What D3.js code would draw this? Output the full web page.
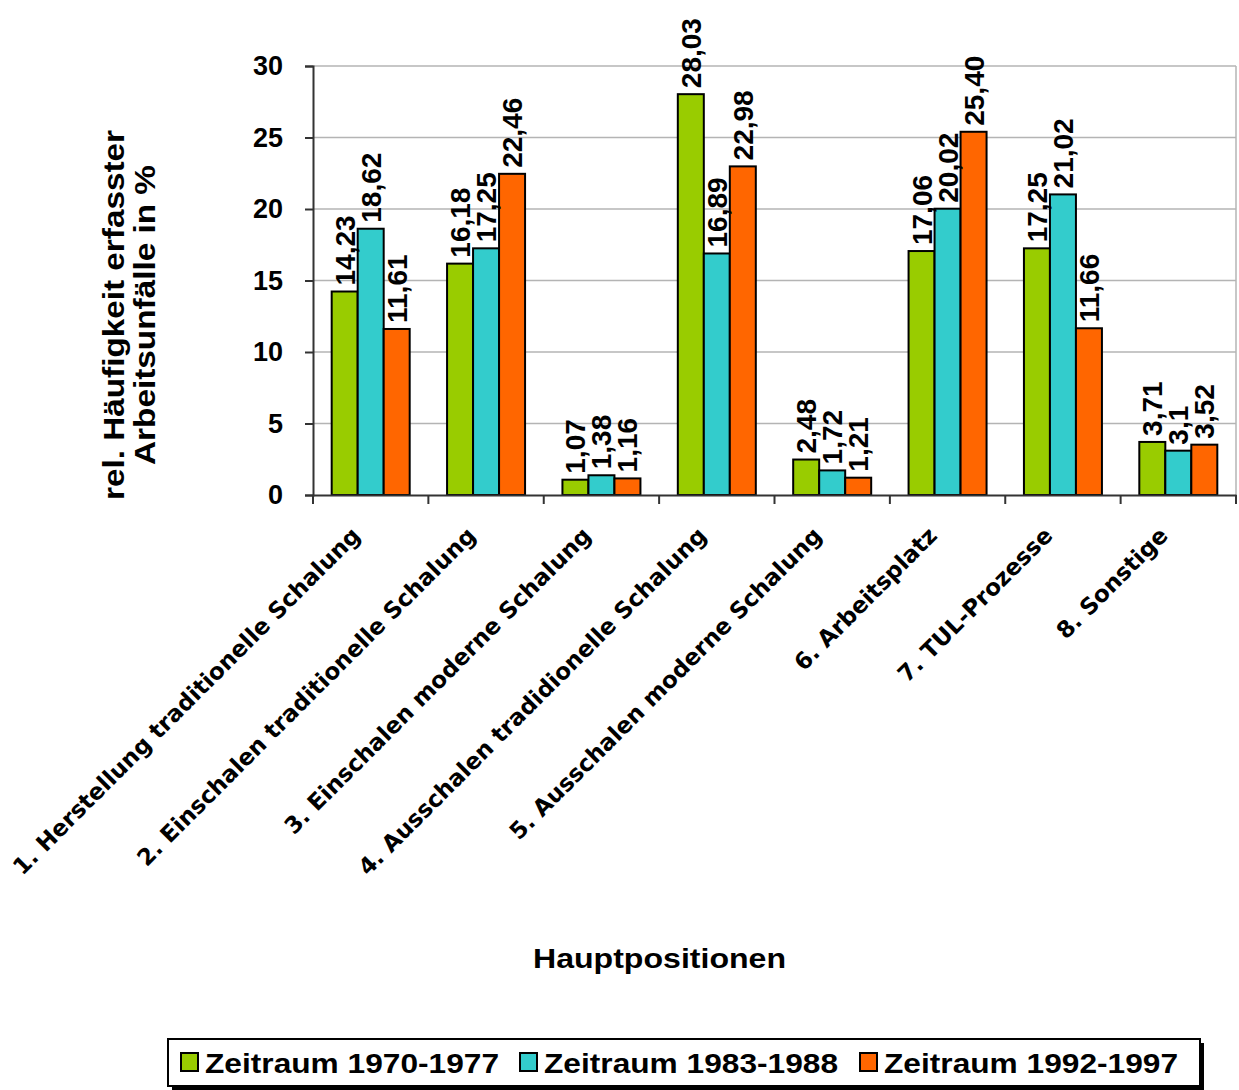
<!DOCTYPE html>
<html>
<head>
<meta charset="utf-8">
<script src="https://cdn.jsdelivr.net/npm/d3@7"></script>
<style>
body { margin: 0; background: #fff; }
</style>
</head>
<body>
<div id="main"></div>
<script>
var categories = [
    "1. Herstellung traditionelle Schalung",
    "2. Einschalen traditionelle Schalung",
    "3. Einschalen moderne Schalung",
    "4. Ausschalen tradidionelle Schalung",
    "5. Ausschalen moderne Schalung",
    "6. Arbeitsplatz",
    "7. TUL-Prozesse",
    "8. Sonstige"
];
var seriesNames = ["Zeitraum 1970-1977", "Zeitraum 1983-1988", "Zeitraum 1992-1997"];
var series1 = [14.23, 16.18, 1.07, 28.03, 2.48, 17.06, 17.25, 3.71];
var series2 = [18.62, 17.25, 1.38, 16.89, 1.72, 20.02, 21.02, 3.1];
var series3 = [11.61, 22.46, 1.16, 22.98, 1.21, 25.40, 11.66, 3.52];
var labels1 = ["14,23", "16,18", "1,07", "28,03", "2,48", "17,06", "17,25", "3,71"];
var labels2 = ["18,62", "17,25", "1,38", "16,89", "1,72", "20,02", "21,02", "3,1"];
var labels3 = ["11,61", "22,46", "1,16", "22,98", "1,21", "25,40", "11,66", "3,52"];
var yTicks = [0, 5, 10, 15, 20, 25, 30];
var colors = ["#99cc00", "#33cccc", "#ff6600"];

var ctx = { w: 1239, h: 1090, left: 313, right: 1236, top: 66, bottom: 495 };
var ARIAL = "'Liberation Sans', Arial, sans-serif";

var svg = d3.select("#main").append("svg")
    .attr("width", ctx.w).attr("height", ctx.h);

var x = d3.scaleBand().domain(categories).range([ctx.left, ctx.right]);
var y = d3.scaleLinear().domain([0, 30]).range([ctx.bottom, ctx.top]);
var barW = 26;
var xs = d3.scaleBand().domain([0, 1, 2]).range([0, barW * 3]);

// gridlines
svg.append("g").selectAll("line")
    .data(yTicks.filter(function(d){ return d > 0; }))
    .enter().append("line")
    .attr("x1", ctx.left).attr("x2", ctx.right)
    .attr("y1", function(d){ return y(d); })
    .attr("y2", function(d){ return y(d); })
    .style("stroke", "#b4b4b4").style("stroke-width", 1.5);
// right border
svg.append("line")
    .attr("x1", ctx.right).attr("x2", ctx.right)
    .attr("y1", ctx.top).attr("y2", ctx.bottom)
    .style("stroke", "#b4b4b4").style("stroke-width", 1.5);

// bars
var rows = categories.map(function(c, i){
    return { cat: c, vals: [series1[i], series2[i], series3[i]], labs: [labels1[i], labels2[i], labels3[i]] };
});
var groups = svg.append("g").selectAll("g")
    .data(rows).enter().append("g")
    .attr("transform", function(d){
        return "translate(" + (x(d.cat) + x.bandwidth()/2 - barW*1.5) + ",0)";
    });
groups.selectAll("rect")
    .data(function(d){ return d.vals; })
    .enter().append("rect")
    .attr("x", function(d, j){ return xs(j); })
    .attr("width", xs.bandwidth())
    .attr("y", function(d){ return y(d); })
    .attr("height", function(d){ return y(0) - y(d); })
    .style("fill", function(d, j){ return colors[j]; })
    .style("stroke", "#000").style("stroke-width", 2);
// value labels, rotated
groups.selectAll("text")
    .data(function(d){ return d.vals.map(function(v, j){ return { v: v, l: d.labs[j], j: j }; }); })
    .enter().append("text")
    .attr("transform", function(d){
        return "translate(" + (xs(d.j) + xs.bandwidth()/2 + 10) + "," + (y(d.v) - 6) + ") rotate(-90)";
    })
    .style("font-family", ARIAL)
    .style("font-weight", "bold")
    .style("font-size", "28px")
    .text(function(d){ return d.l; });

// y axis
var yAxis = svg.append("g")
    .attr("transform", "translate(" + ctx.left + ",0)")
    .call(d3.axisLeft(y).tickValues(yTicks).tickSize(8).tickPadding(22));
yAxis.select(".domain").style("stroke", "#333").style("stroke-width", 2);
yAxis.selectAll(".tick line").style("stroke", "#333").style("stroke-width", 2);
yAxis.selectAll("text")
    .style("font-family", ARIAL)
    .style("font-weight", "bold").style("font-size", "27px").style("fill", "#000");

// x axis
var xAxis = svg.append("g")
    .attr("transform", "translate(0," + ctx.bottom + ")")
    .call(d3.axisBottom(x).tickSize(0).tickFormat(""));
xAxis.select(".domain").style("stroke", "#333").style("stroke-width", 2);
svg.append("g").selectAll("line")
    .data(d3.range(categories.length + 1))
    .enter().append("line")
    .attr("x1", function(i){ return ctx.left + i * x.step(); })
    .attr("x2", function(i){ return ctx.left + i * x.step(); })
    .attr("y1", ctx.bottom).attr("y2", ctx.bottom + 9)
    .style("stroke", "#333").style("stroke-width", 2);
svg.append("g").selectAll("text")
    .data(categories).enter().append("text")
    .attr("transform", function(d){
        return "translate(" + (x(d) + x.bandwidth()/2 - 9) + "," + (ctx.bottom + 42) + ") rotate(-45)";
    })
    .style("text-anchor", "end")
    .style("font-family", "'DejaVu Sans', Verdana, sans-serif")
    .style("font-weight", "bold").style("font-size", "23px")
    .text(function(d){ return d; });

// axis titles
svg.append("text")
    .attr("transform", "translate(124,315) rotate(-90)")
    .attr("textLength", 370).attr("lengthAdjust", "spacingAndGlyphs")
    .style("text-anchor", "middle")
    .style("font-family", ARIAL)
    .style("font-weight", "bold").style("font-size", "29px")
    .text("rel. Häufigkeit erfasster");
svg.append("text")
    .attr("transform", "translate(155,315) rotate(-90)")
    .attr("textLength", 300).attr("lengthAdjust", "spacingAndGlyphs")
    .style("text-anchor", "middle")
    .style("font-family", ARIAL)
    .style("font-weight", "bold").style("font-size", "29px")
    .text("Arbeitsunfälle in %");
svg.append("text")
    .attr("x", 533).attr("y", 968)
    .attr("textLength", 253).attr("lengthAdjust", "spacingAndGlyphs")
    .style("font-family", ARIAL)
    .style("font-weight", "bold").style("font-size", "28px")
    .text("Hauptpositionen");

// legend
var lg = svg.append("g");
lg.append("rect").attr("x", 172).attr("y", 1043).attr("width", 1032).attr("height", 47).style("fill", "#000");
lg.append("rect").attr("x", 168).attr("y", 1039).attr("width", 1032).attr("height", 47)
    .style("fill", "#fff").style("stroke", "#000").style("stroke-width", 2);
var legX = [181, 520, 860];
var items = lg.selectAll("g.item").data(seriesNames).enter().append("g")
    .attr("transform", function(d, i){ return "translate(" + legX[i] + ",1053)"; });
items.append("rect").attr("width", 17).attr("height", 18)
    .style("fill", function(d, i){ return colors[i]; })
    .style("stroke", "#000").style("stroke-width", 2);
items.append("text").attr("x", 24).attr("y", 20)
    .attr("textLength", 294).attr("lengthAdjust", "spacingAndGlyphs")
    .style("font-family", ARIAL)
    .style("font-weight", "bold").style("font-size", "28px")
    .text(function(d){ return d; });
</script>
</body>
</html>
